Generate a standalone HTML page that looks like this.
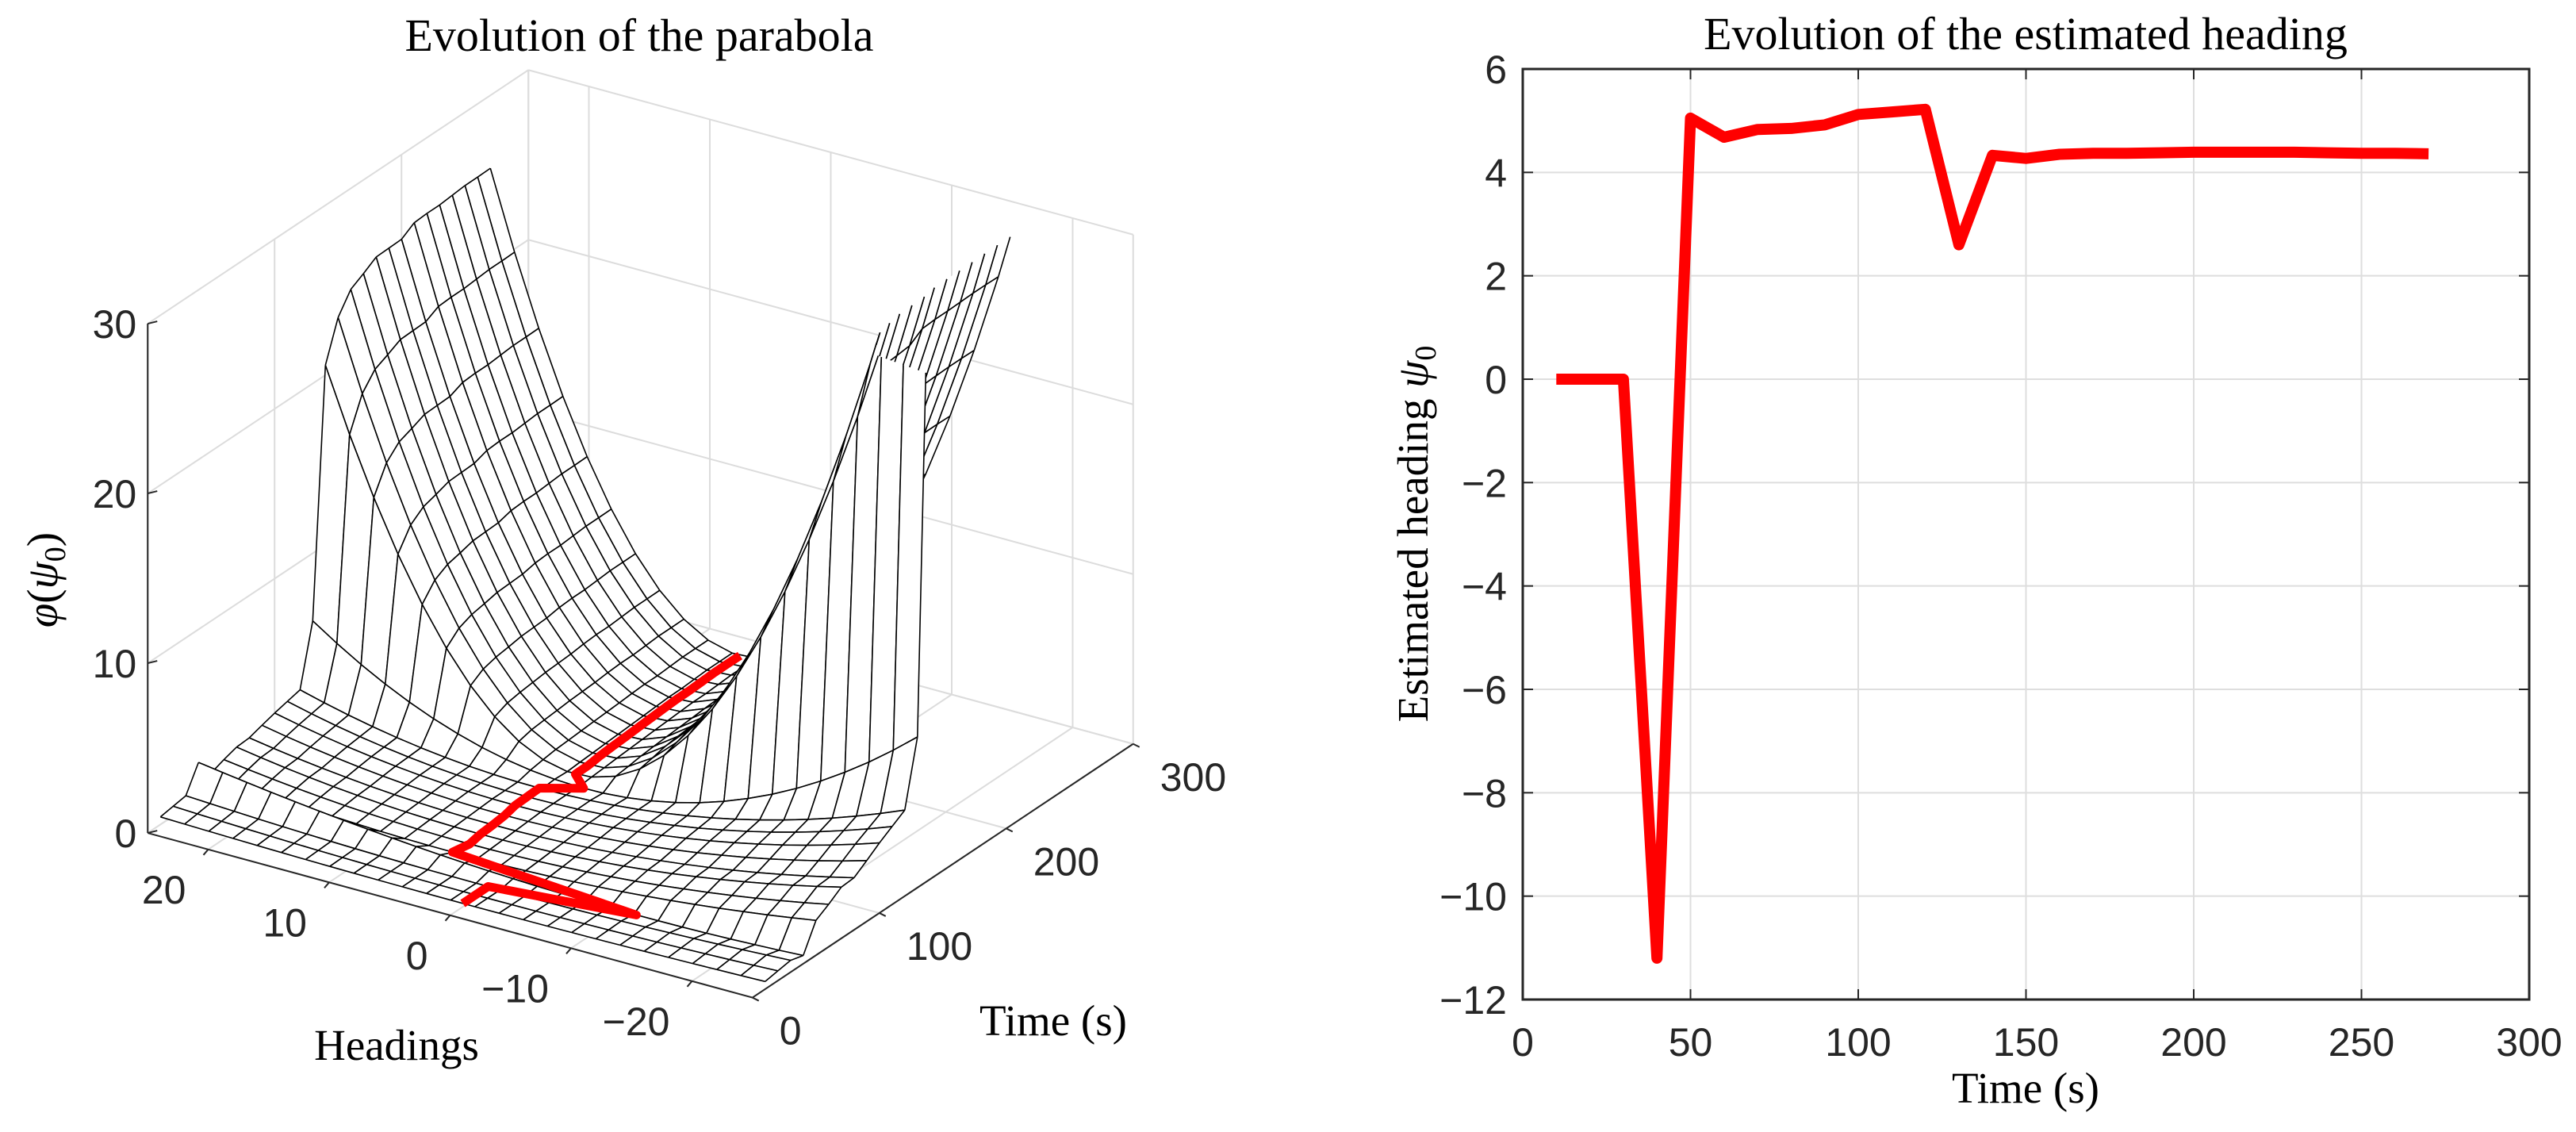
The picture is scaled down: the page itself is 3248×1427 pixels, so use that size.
<!DOCTYPE html>
<html><head><meta charset="utf-8"><title>Parabola evolution</title>
<style>
html,body{margin:0;padding:0;background:#fff;}
svg{display:block;}
.tick{font-family:"Liberation Sans",Arial,sans-serif;font-size:50px;fill:#262626;}
.ser{font-family:"Liberation Serif","DejaVu Serif",serif;fill:#000;}
</style></head>
<body>
<svg id="fig" width="3248" height="1427" viewBox="0 0 3248 1427" xmlns="http://www.w3.org/2000/svg">
  <rect x="0" y="0" width="3248" height="1427" fill="#fff"/>
  <g id="left">
    <g id="lgrid"></g>
    <g id="lsurf"></g>
    <g id="laxes"></g>
    <g id="lred"></g>
    <text class="ser" x="806" y="64" font-size="58" text-anchor="middle">Evolution of the parabola</text>
    <text class="ser" x="500" y="1336" font-size="55" text-anchor="middle">Headings</text>
    <text class="ser" x="1328" y="1305" font-size="55" text-anchor="middle">Time (s)</text>
    <text class="ser" transform="translate(72,731) rotate(-90)" font-size="55" text-anchor="middle"><tspan font-style="italic">φ</tspan>(<tspan font-style="italic">ψ</tspan><tspan font-size="38" dy="10">0</tspan><tspan dy="-10">)</tspan></text>
  </g>
  <g id="right">
    <g id="rgrid"></g>
    <g id="rticks"></g>
    <g id="rline"></g>
    <rect x="1920" y="87" width="1269" height="1173" fill="none" stroke="#262626" stroke-width="3"/>
    <text class="ser" x="2554" y="62" font-size="58" text-anchor="middle">Evolution of the estimated heading</text>
    <text class="ser" x="2554" y="1390" font-size="55" text-anchor="middle">Time (s)</text>
    <text class="ser" transform="translate(1800,673) rotate(-90)" font-size="55" text-anchor="middle">Estimated heading <tspan font-style="italic">ψ</tspan><tspan font-size="38" dy="10">0</tspan></text>
  </g>
</svg>
<script>
const times = [10,20,30,40,50,60,70,80,90,100,110,120,130,140,150,160,170,180,190,200,210,220,230,240,250,260,270];
const psiEst = [0,0,0,-11.2,5.05,4.68,4.83,4.85,4.92,5.12,5.17,5.22,2.6,4.33,4.27,4.35,4.37,4.37,4.38,4.39,4.39,4.39,4.39,4.38,4.37,4.37,4.36];
const curvature = [0.0004,0.0006,0.0008,0.0015,0.002,0.0025,0.003,0.003,0.0035,0.004,0.0045,0.005,0.011,0.047,0.052,0.055,0.056,0.057,0.057,0.057,0.058,0.058,0.058,0.058,0.058,0.058,0.058];
const minCost = [0.2,0.2,0.2,0.2,0.25,0.3,0.35,0.4,0.45,0.5,0.5,0.5,0.5,0.5,0.55,0.6,0.65,0.7,0.75,0.8,0.85,0.9,0.9,0.95,1,1,1];
const zTicks = [0,10,20,30];
const hTicks = [20,10,0,-10,-20];
const tTicks = [0,100,200,300];
const xTicksR = [0,50,100,150,200,250,300];
const yTicksR = [6,4,2,0,-2,-4,-6,-8,-10,-12];

const NS = "http://www.w3.org/2000/svg";
function mk(tag, attrs, parent){const e=document.createElementNS(NS,tag);for(const k in attrs)e.setAttribute(k,attrs[k]);parent.appendChild(e);return e;}

const H0=25, H1=-25, T0=0, T1=300, Z0=0, Z1=30;
function P(h,t,z){return [567.5-15.25*h+1.6*t, 1153.8-4.15*h-1.066*t-21.4*z];}
function pt(p){return p[0].toFixed(1)+","+p[1].toFixed(1);}

const lgrid=document.getElementById('lgrid');
function gline(a,b,name){
  const l=mk('line',{x1:a[0],y1:a[1],x2:b[0],y2:b[1],stroke:'#dcdcdc','stroke-width':2},lgrid);
  
  
}
zTicks.forEach(z=>{
  gline(P(H0,T0,z),P(H0,T1,z),'grid-z-left-wall');
  gline(P(H0,T1,z),P(H1,T1,z),'grid-z-back-wall');
});
[25,20,10,0,-10,-20,-25].forEach(h=>{
  gline(P(h,T1,0),P(h,T1,Z1),'grid-h-back-wall');
  gline(P(h,T0,0),P(h,T1,0),'grid-h-floor');
});
tTicks.forEach(t=>{
  gline(P(H0,t,0),P(H0,t,Z1),'grid-t-left-wall');
  gline(P(H0,t,0),P(H1,t,0),'grid-t-floor');
});

const headings=[];for(let h=-25;h<=25;h+=2)headings.push(h);
function zval(i,h){return curvature[i]*(h-psiEst[i])*(h-psiEst[i])+minCost[i];}
function clipPoly(v){
  const out=[];
  for(let k=0;k<v.length;k++){
    const a=v[k],b=v[(k+1)%v.length];
    const ain=a[2]<=Z1,bin=b[2]<=Z1;
    if(ain)out.push(a);
    if(ain!==bin){const f=(Z1-a[2])/(b[2]-a[2]);out.push([a[0]+f*(b[0]-a[0]),a[1]+f*(b[1]-a[1]),Z1]);}
  }
  return out;
}
function clipSeg(a,b){
  if(a[2]>Z1&&b[2]>Z1)return null;
  if(a[2]<=Z1&&b[2]<=Z1)return [a,b];
  const f=(Z1-a[2])/(b[2]-a[2]);const c=[a[0]+f*(b[0]-a[0]),a[1]+f*(b[1]-a[1]),Z1];
  return a[2]<=Z1?[a,c]:[c,b];
}
const quads=[];
for(let i=0;i<times.length-1;i++){
  for(let j=0;j<headings.length-1;j++){
    const v=[[headings[j],times[i],zval(i,headings[j])],[headings[j+1],times[i],zval(i,headings[j+1])],
             [headings[j+1],times[i+1],zval(i+1,headings[j+1])],[headings[j],times[i+1],zval(i+1,headings[j])]];
    const hc=(headings[j]+headings[j+1])/2,tc=(times[i]+times[i+1])/2;
    quads.push({v:v,d:4.15*hc+1.066*tc});
  }
}
quads.sort((a,b)=>b.d-a.d);
const lsurf=document.getElementById('lsurf');
quads.forEach(q=>{
  const c=clipPoly(q.v);
  if(c.length<3)return;
  const poly=mk('polygon',{points:c.map(p=>pt(P(p[0],p[1],p[2]))).join(' '),fill:'#fff',stroke:'none'},lsurf);
  
  
  let d='';
  for(let k=0;k<4;k++){
    const s=clipSeg(q.v[k],q.v[(k+1)%4]);
    if(s){const a=P(s[0][0],s[0][1],s[0][2]),b=P(s[1][0],s[1][1],s[1][2]);d+='M'+pt(a)+'L'+pt(b);}
  }
  if(d){
    const e=mk('path',{d:d,fill:'none',stroke:'#000','stroke-width':1.6,'stroke-linejoin':'round'},lsurf);
    
    
  }
});

const laxes=document.getElementById('laxes');
function aline(a,b,name){
  const l=mk('line',{x1:a[0],y1:a[1],x2:b[0],y2:b[1],stroke:'#262626','stroke-width':2},laxes);
  
  
}
aline(P(H0,T0,0),P(H0,T0,Z1),'z-axis');
aline(P(H0,T0,0),P(H1,T0,0),'heading-axis');
aline(P(H1,T0,0),P(H1,T1,0),'time-axis-3d');
zTicks.forEach(z=>{
  const p=P(H0,T0,z);
  aline(p,[p[0]+12,p[1]-3],'z-tick');
  const tx=mk('text',{x:p[0]-14,y:p[1]+18,'text-anchor':'end',class:'tick'},laxes);
  tx.textContent=String(z);
  
  
});
hTicks.forEach(h=>{
  const p=P(h,T0,0);
  aline(p,[p[0]-6,p[1]+7],'heading-tick');
  const tx=mk('text',{x:p[0]-28,y:p[1]+68,'text-anchor':'end',class:'tick'},laxes);
  tx.textContent=(h<0?'\u2212':'')+Math.abs(h);
  
  
});
tTicks.forEach(t=>{
  const p=P(H1,t,0);
  aline(p,[p[0]+8,p[1]+4],'time-tick-3d');
  const tx=mk('text',{x:p[0]+34,y:p[1]+59,'text-anchor':'start',class:'tick'},laxes);
  tx.textContent=String(t);
  
  
});

const lred=document.getElementById('lred');
const redPts=times.map((t,i)=>pt(P(psiEst[i],t,minCost[i]))).join(' ');
const rp=mk('polyline',{points:redPts,fill:'none',stroke:'#ff0000','stroke-width':11,'stroke-linejoin':'round','stroke-linecap':'butt'},lred);



const RX0=1920,RX1=3189,RY0=87,RY1=1260;
function xs(t){return RX0+(t-0)*(RX1-RX0)/300;}
function ys(v){return RY0+(6-v)*(RY1-RY0)/18;}
const rgrid=document.getElementById('rgrid'),rticks=document.getElementById('rticks');
xTicksR.forEach(t=>{
  const g=mk('line',{x1:xs(t),y1:RY0,x2:xs(t),y2:RY1,stroke:'#dedede','stroke-width':2},rgrid);
  
  
  const k1=mk('line',{x1:xs(t),y1:RY1,x2:xs(t),y2:RY1-13,stroke:'#262626','stroke-width':2},rticks);
  
  
  const k2=mk('line',{x1:xs(t),y1:RY0,x2:xs(t),y2:RY0+13,stroke:'#262626','stroke-width':2},rticks);
  
  
  const tx=mk('text',{x:xs(t),y:1331,'text-anchor':'middle',class:'tick'},rticks);
  tx.textContent=String(t);
  
  
});
yTicksR.forEach(v=>{
  const g=mk('line',{x1:RX0,y1:ys(v),x2:RX1,y2:ys(v),stroke:'#dedede','stroke-width':2},rgrid);
  
  
  const k1=mk('line',{x1:RX0,y1:ys(v),x2:RX0+13,y2:ys(v),stroke:'#262626','stroke-width':2},rticks);
  
  
  const k2=mk('line',{x1:RX1,y1:ys(v),x2:RX1-13,y2:ys(v),stroke:'#262626','stroke-width':2},rticks);
  
  
  const tx=mk('text',{x:1900,y:ys(v)+18,'text-anchor':'end',class:'tick'},rticks);
  tx.textContent=(v<0?'\u2212':'')+Math.abs(v);
  
  
});
const rline=document.getElementById('rline');
const lp=mk('polyline',{points:times.map((t,i)=>xs(t).toFixed(1)+','+ys(psiEst[i]).toFixed(1)).join(' '),fill:'none',stroke:'#ff0000','stroke-width':14,'stroke-linejoin':'round','stroke-linecap':'butt'},rline);


</script>
</body></html>
